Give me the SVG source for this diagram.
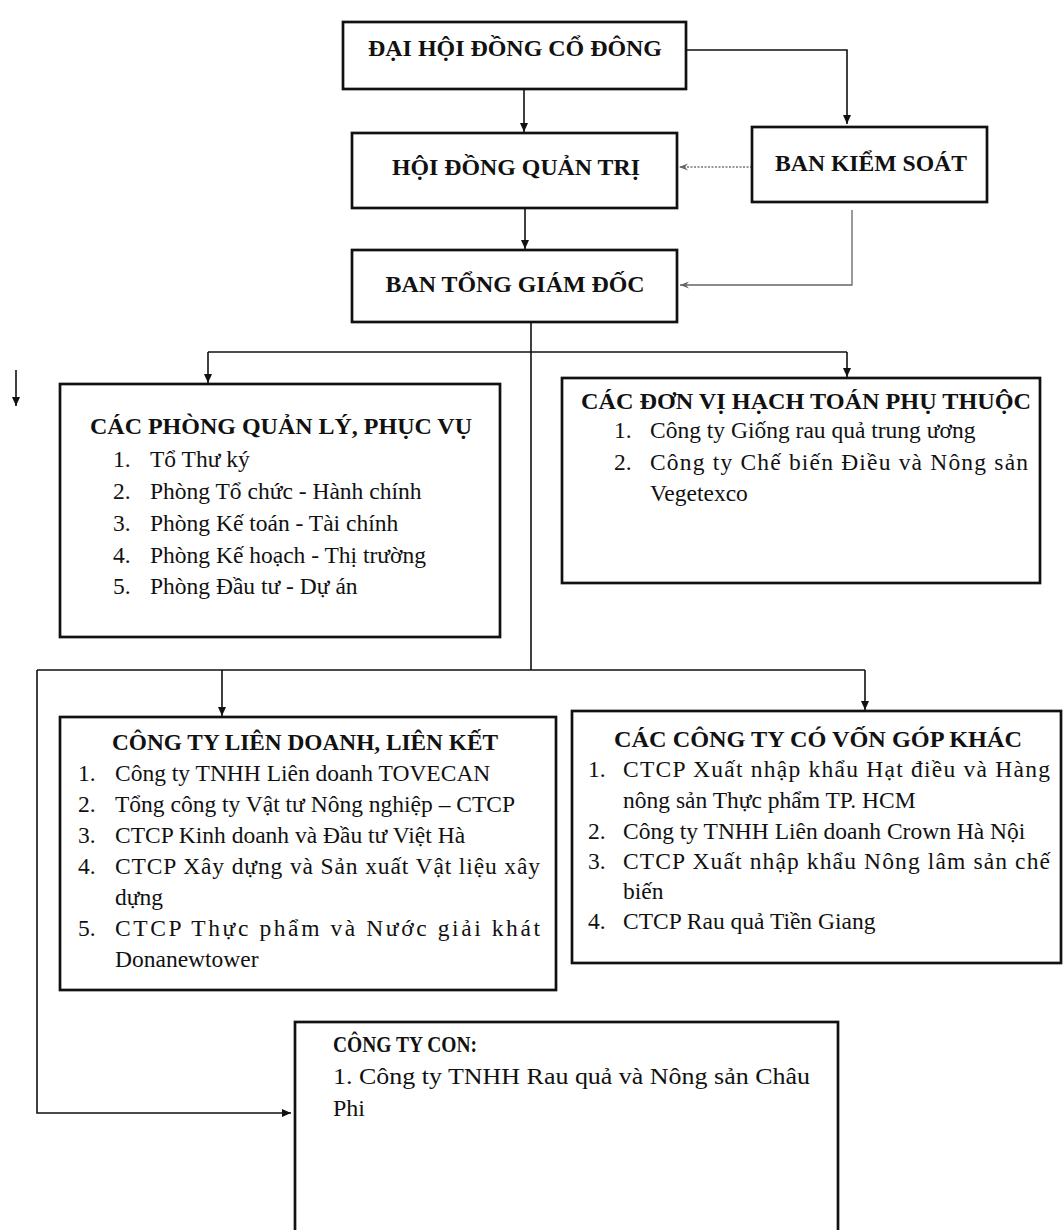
<svg xmlns="http://www.w3.org/2000/svg" width="1063" height="1230" viewBox="0 0 1063 1230">
<defs>
<marker id="ah" markerWidth="10" markerHeight="10" refX="9" refY="5" orient="auto" markerUnits="userSpaceOnUse">
<path d="M0,1 L9,5 L0,9 z" fill="#111"/>
</marker>
<marker id="ahg" markerWidth="10" markerHeight="10" refX="9" refY="5" orient="auto" markerUnits="userSpaceOnUse">
<path d="M0,1.5 L9,5 L0,8.5 L3,5 z" fill="#666"/>
</marker>
</defs>
<style>
.box{fill:#fff;stroke:#111;stroke-width:2.7}
.t{font-family:"Liberation Serif","Times New Roman",serif;fill:#111}
.b{font-weight:bold}
.hd{font-size:24px;font-weight:bold;text-anchor:middle}
.ti{font-size:24px;font-weight:bold;text-anchor:middle}
.it{font-size:23.5px}
.c{fill:none;stroke:#111;stroke-width:1.6}
.g{fill:none;stroke:#777;stroke-width:1.4;stroke-dasharray:2 1.5}
.gs{fill:none;stroke:#666;stroke-width:1.3}
</style>
<rect width="1063" height="1230" fill="#fff"/>

<g id="connectors">
<path class="c" d="M686,50 H847 V124" marker-end="url(#ah)"/>
<path class="c" d="M524,89 V132" marker-end="url(#ah)"/>
<path class="g" d="M752,167 H679" marker-end="url(#ahg)"/>
<path class="c" d="M525,208 V249" marker-end="url(#ah)"/>
<path class="gs" d="M852,210 V285 H680" marker-end="url(#ahg)"/>
<path class="c" d="M531,322 V670"/>
<path class="c" d="M208,352 H847"/>
<path class="c" d="M208,352 V383" marker-end="url(#ah)"/>
<path class="c" d="M847,352 V377" marker-end="url(#ah)"/>
<path class="c" d="M16,370 V406" marker-end="url(#ah)"/>
<path class="c" d="M37,670 H865"/>
<path class="c" d="M222,670 V716" marker-end="url(#ah)"/>
<path class="c" d="M865,670 V710" marker-end="url(#ah)"/>
<path class="c" d="M37,670 V1113 H291" marker-end="url(#ah)"/>
</g>

<g id="dai-hoi-dong-co-dong">
<rect class="box" x="343" y="22" width="343" height="67"/>
<text class="t hd" x="515" y="56" textLength="294" lengthAdjust="spacingAndGlyphs">ĐẠI HỘI ĐỒNG CỔ ĐÔNG</text>
</g>

<g id="hoi-dong-quan-tri">
<rect class="box" x="352" y="133" width="325" height="75"/>
<text class="t hd" x="516" y="175" textLength="248" lengthAdjust="spacingAndGlyphs">HỘI ĐỒNG QUẢN TRỊ</text>
</g>

<g id="ban-kiem-soat">
<rect class="box" x="752" y="127" width="235" height="75"/>
<text class="t hd" x="871" y="171" textLength="192" lengthAdjust="spacingAndGlyphs">BAN KIỂM SOÁT</text>
</g>

<g id="ban-tong-giam-doc">
<rect class="box" x="352" y="250" width="325" height="72"/>
<text class="t hd" x="515" y="292" textLength="259" lengthAdjust="spacingAndGlyphs">BAN TỔNG GIÁM ĐỐC</text>
</g>

<g id="cac-phong-quan-ly">
<rect class="box" x="60" y="384" width="440" height="253"/>
<text class="t ti" x="281" y="434" textLength="382" lengthAdjust="spacingAndGlyphs">CÁC PHÒNG QUẢN LÝ, PHỤC VỤ</text>
<g class="t it">
<text x="113" y="467">1.</text><text x="150" y="467">Tổ Thư ký</text>
<text x="113" y="499">2.</text><text x="150" y="499">Phòng Tổ chức - Hành chính</text>
<text x="113" y="531">3.</text><text x="150" y="531">Phòng Kế toán - Tài chính</text>
<text x="113" y="563">4.</text><text x="150" y="563">Phòng Kế hoạch - Thị trường</text>
<text x="113" y="594">5.</text><text x="150" y="594">Phòng Đầu tư - Dự án</text>
</g>
</g>

<g id="cac-don-vi-hach-toan">
<rect class="box" x="562" y="378" width="478" height="205"/>
<text class="t ti" x="806" y="409" textLength="450" lengthAdjust="spacingAndGlyphs">CÁC ĐƠN VỊ HẠCH TOÁN PHỤ THUỘC</text>
<g class="t it">
<text x="614" y="438">1.</text><text x="650" y="438">Công ty Giống rau quả trung ương</text>
<text x="614" y="470">2.</text><text x="650" y="470" textLength="378" lengthAdjust="spacing">Công ty Chế biến Điều và Nông sản</text>
<text x="650" y="501">Vegetexco</text>
</g>
</g>

<g id="cong-ty-lien-doanh">
<rect class="box" x="60" y="717" width="496" height="273"/>
<text class="t ti" x="305" y="750" textLength="386" lengthAdjust="spacingAndGlyphs">CÔNG TY LIÊN DOANH, LIÊN KẾT</text>
<g class="t it">
<text x="78" y="781">1.</text><text x="115" y="781">Công ty TNHH Liên doanh TOVECAN</text>
<text x="78" y="812">2.</text><text x="115" y="812">Tổng công ty Vật tư Nông nghiệp – CTCP</text>
<text x="78" y="843">3.</text><text x="115" y="843">CTCP Kinh doanh và Đầu tư Việt Hà</text>
<text x="78" y="874">4.</text><text x="115" y="874" textLength="425" lengthAdjust="spacing">CTCP Xây dựng và Sản xuất Vật liệu xây</text>
<text x="115" y="905">dựng</text>
<text x="78" y="936">5.</text><text x="115" y="936" textLength="425" lengthAdjust="spacing">CTCP Thực phẩm và Nước giải khát</text>
<text x="115" y="967">Donanewtower</text>
</g>
</g>

<g id="cac-cong-ty-co-von-gop-khac">
<rect class="box" x="572" y="711" width="489" height="252"/>
<text class="t ti" x="818" y="747" textLength="408" lengthAdjust="spacingAndGlyphs">CÁC CÔNG TY CÓ VỐN GÓP KHÁC</text>
<g class="t it">
<text x="588" y="777">1.</text><text x="623" y="777" textLength="427" lengthAdjust="spacing">CTCP Xuất nhập khẩu Hạt điều và Hàng</text>
<text x="623" y="808">nông sản Thực phẩm TP. HCM</text>
<text x="588" y="839">2.</text><text x="623" y="839">Công ty TNHH Liên doanh Crown Hà Nội</text>
<text x="588" y="869">3.</text><text x="623" y="869" textLength="427" lengthAdjust="spacing">CTCP Xuất nhập khẩu Nông lâm sản chế</text>
<text x="623" y="899">biến</text>
<text x="588" y="929">4.</text><text x="623" y="929">CTCP Rau quả Tiền Giang</text>
</g>
</g>

<g id="cong-ty-con">
<rect class="box" x="295" y="1022" width="543" height="222"/>
<text class="t b" x="333" y="1052" font-size="23" textLength="144" lengthAdjust="spacingAndGlyphs">CÔNG TY CON:</text>
<text class="t" x="333" y="1084" font-size="24" textLength="477" lengthAdjust="spacingAndGlyphs">1. Công ty TNHH Rau quả và Nông sản Châu</text>
<text class="t" x="333" y="1116" font-size="24">Phi</text>
</g>
</svg>
